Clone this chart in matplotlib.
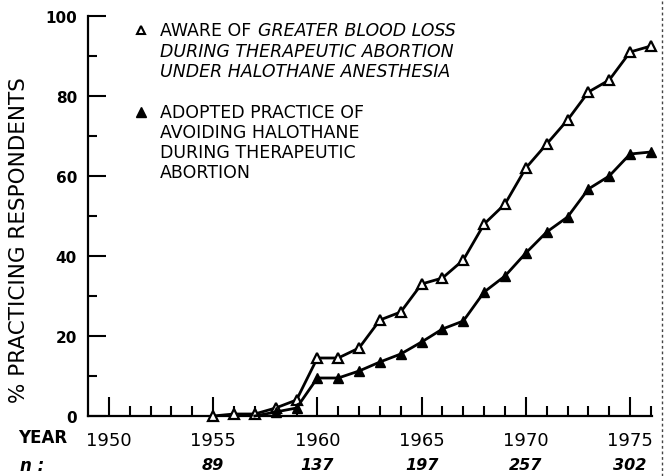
import numpy as np
import matplotlib
matplotlib.use("Agg")
import matplotlib.pyplot as plt
from matplotlib.transforms import blended_transform_factory

# data
years_aware = list(range(1955, 1977))
pct_aware = [0, 0.5, 0.5, 2, 4, 14.5, 14.5, 17, 24, 26, 33, 34.5, 39,
             48, 53, 62, 68, 74, 81, 84, 91, 92.5]

years_adopted = list(range(1957, 1977))
pct_adopted = [0, 1, 2, 9.5, 9.5, 11.25, 13.5, 15.5, 18.5, 21.75, 23.75,
               31, 35, 40.75, 46, 49.75, 56.75, 60, 65.5, 66]

n_years = [1955, 1960, 1965, 1970, 1975]
n_values = [89, 137, 197, 257, 302]

W, H = 670, 477
plt.rcParams["font.family"] = ["DejaVu Sans"]

fig = plt.figure(figsize=(W / 100, H / 100), dpi=100)
ax = fig.add_axes([88 / W, 1 - 417 / H, (652 - 88) / W, (417 - 17) / H])


def fx(px):
    return px / W


def fy(py):
    return 1 - py / H


# series
ax.plot(years_aware, pct_aware, color="black", lw=2, marker="^", ms=7,
        mfc="white", mec="black", mew=1.6, clip_on=False, zorder=3)
ax.plot(years_adopted, pct_adopted, color="black", lw=2, marker="^", ms=7,
        mfc="black", mec="black", markevery=list(range(1, len(years_adopted))),
        clip_on=False, zorder=4)

# axes
ax.set_xlim(1949, 1976.05)
ax.set_ylim(0, 100)
for s in ["top", "right"]:
    ax.spines[s].set_visible(False)
for s in ["left", "bottom"]:
    ax.spines[s].set_linewidth(1.6)

ax.set_yticks(np.arange(0, 101, 20))
ax.set_yticks(np.arange(10, 100, 20), minor=True)
ax.set_xticks(np.arange(1950, 1976, 5))
ax.set_xticks([y for y in range(1951, 1977) if y % 5 != 0], minor=True)
ax.tick_params(axis="y", which="major", direction="in", length=13, width=1.5,
               pad=8, labelsize=11)
ax.tick_params(axis="y", which="minor", direction="in", length=6.5, width=1.5)
ax.tick_params(axis="x", which="major", direction="in", length=14, width=1.5,
               pad=11, labelsize=13)
ax.tick_params(axis="x", which="minor", direction="in", length=7, width=1.5)
for lab in ax.get_yticklabels():
    lab.set_fontweight("bold")

# y label
fig.text(fx(19), fy(240), "% PRACTICING RESPONDENTS", rotation=90,
         ha="center", va="center", fontsize=15.5)

# YEAR and n row
fig.text(fx(18), fy(438), "YEAR", ha="left", va="center", fontsize=12,
         fontweight="bold")
fig.text(fx(20), fy(466), "n :", ha="left", va="center", fontsize=12,
         style="italic", fontweight="bold")
tr = blended_transform_factory(ax.transData, fig.transFigure)
for yr, n in zip(n_years, n_values):
    ax.text(yr, fy(466), str(n), transform=tr, ha="center", va="center",
            fontsize=11.5, style="italic", fontweight="bold")

# legend block
fig.add_artist(plt.Line2D([fx(141)], [fy(31)], marker="^", ms=6,
                          mfc="white", mec="black", mew=1.5, ls="none",
                          transform=fig.transFigure))
fig.add_artist(plt.Line2D([fx(141)], [fy(113)], marker="^", ms=6.5,
                          mfc="black", mec="black", ls="none",
                          transform=fig.transFigure))

fs = 12.5
t1 = fig.text(fx(160), fy(31), "AWARE OF", ha="left", va="center", fontsize=fs)
ax.annotate("GREATER BLOOD LOSS", xy=(1, 0.5), xycoords=t1,
            xytext=(5, 0), textcoords="offset points", ha="left",
            va="center", fontsize=fs, style="italic")
fig.text(fx(160), fy(52), "DURING THERAPEUTIC ABORTION", ha="left",
         va="center", fontsize=fs, style="italic")
fig.text(fx(160), fy(72), "UNDER HALOTHANE ANESTHESIA", ha="left",
         va="center", fontsize=fs, style="italic")
for i, line in enumerate(["ADOPTED PRACTICE OF", "AVOIDING HALOTHANE",
                          "DURING THERAPEUTIC", "ABORTION"]):
    fig.text(fx(160), fy(113 + 20 * i), line, ha="left", va="center",
             fontsize=fs)

# right-edge scan border
fig.add_artist(plt.Line2D([fx(662), fx(662)], [0, 1], color="#444444",
                          lw=1, ls=(0, (2, 2)), transform=fig.transFigure))

fig.savefig("out.png", dpi=100)
